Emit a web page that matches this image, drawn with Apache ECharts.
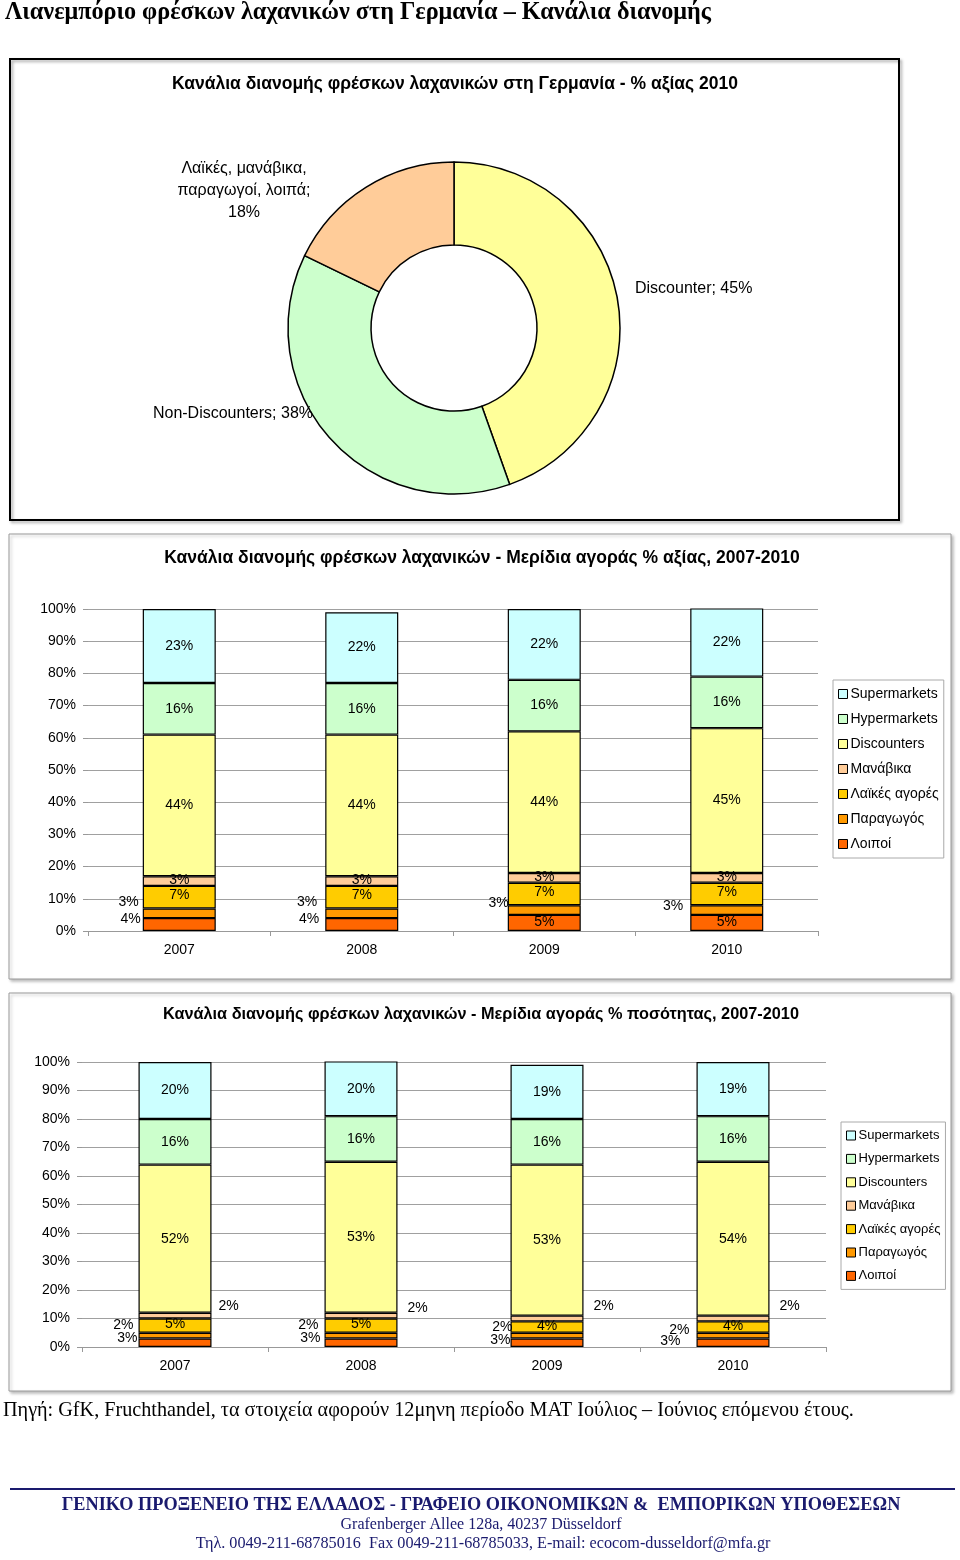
<!DOCTYPE html>
<html><head><meta charset="utf-8">
<script src="https://cdn.jsdelivr.net/npm/echarts@6/dist/echarts.min.js"></script>
<style>html,body{margin:0;padding:0;background:#fff}#c{width:960px;height:1560px}</style>
</head><body><div id="c"></div>
<script>
// ---- Data ----
const pieNames = ['Discounter', 'Non-Discounters', 'Λαϊκές, μανάβικα,\nπαραγωγοί, λοιπά'];
const pieValues = [45, 38, 18];

const years = ['2007', '2008', '2009', '2010'];
const seriesNames = ['Λοιποί', 'Παραγωγός', 'Λαϊκές αγορές', 'Μανάβικα', 'Discounters', 'Hypermarkets', 'Supermarkets'];
const legendOrder = ['Supermarkets', 'Hypermarkets', 'Discounters', 'Μανάβικα', 'Λαϊκές αγορές', 'Παραγωγός', 'Λοιποί'];

// value shares (% αξίας)
const valLoipoi = [4, 4, 5, 5];
const valParagogos = [3, 3, 3, 3];
const valLaikes = [7, 7, 7, 7];
const valManavika = [3, 3, 3, 3];
const valDiscounters = [44, 44, 44, 45];
const valHyper = [16, 16, 16, 16];
const valSuper = [23, 22, 22, 22];

// volume shares (% ποσότητας)
const volLoipoi = [3, 3, 3, 3];
const volParagogos = [2, 2, 2, 2];
const volLaikes = [5, 5, 4, 4];
const volManavika = [2, 2, 2, 2];
const volDiscounters = [52, 53, 53, 54];
const volHyper = [16, 16, 16, 16];
const volSuper = [20, 20, 19, 19];

const yTicks = [0, 10, 20, 30, 40, 50, 60, 70, 80, 90, 100];

// ---- Styles ----
const colors = {
  'Λοιποί': '#FF6600', 'Παραγωγός': '#FF9900', 'Λαϊκές αγορές': '#FFCC00', 'Μανάβικα': '#FFCC99',
  'Discounters': '#FFFF99', 'Hypermarkets': '#CCFFCC', 'Supermarkets': '#CCFFFF'
};
const SANS = '"Liberation Sans", Arial, sans-serif';
const SERIF = '"Liberation Serif", "Times New Roman", serif';

// label overrides per chart / series / year index
const valLabelCfg = {
  'Λοιποί': [
    {position: 'left', distance: 2, offset: [0, -5]},
    {position: 'left', distance: 6, offset: [0, -5]},
    {position: 'inside', offset: [0, -1]},
    {position: 'inside', offset: [0, -1]}
  ],
  'Παραγωγός': [
    {position: 'left', distance: 4, offset: [0, -11]},
    {position: 'left', distance: 8, offset: [0, -11]},
    {position: 'left', distance: -1, offset: [0, -7]},
    {position: 'left', distance: 7, offset: [0, -4]}
  ],
  'Λαϊκές αγορές': [{offset: [0, -2]}, {offset: [0, -2]}, {offset: [0, -2]}, {offset: [0, -2]}],
  'Μανάβικα': [{offset: [0, -1]}, {offset: [0, -1]}, {offset: [0, -1]}, {offset: [0, -1]}]
};
const volLabelCfg = {
  'Λοιποί': [
    {position: 'left', distance: 1, offset: [0, -5]},
    {position: 'left', distance: 4, offset: [0, -5]},
    {position: 'left', distance: 0, offset: [0, -3]},
    {position: 'left', distance: 16, offset: [0, -2]}
  ],
  'Παραγωγός': [
    {position: 'left', distance: 5, offset: [0, -10]},
    {position: 'left', distance: 6, offset: [0, -10]},
    {position: 'left', distance: -2, offset: [0, -8]},
    {position: 'left', distance: 7, offset: [0, -5]}
  ],
  'Μανάβικα': [
    {position: 'right', distance: 7, offset: [0, -10]},
    {position: 'right', distance: 10, offset: [0, -8]},
    {position: 'right', distance: 10, offset: [0, -12]},
    {position: 'right', distance: 10, offset: [0, -12]}
  ],
  'Λαϊκές αγορές': [{offset: [0, -1]}, {offset: [0, -1]}, {offset: [0, -1]}, {offset: [0, -1]}]
};

const valData = [valLoipoi, valParagogos, valLaikes, valManavika, valDiscounters, valHyper, valSuper];
const volData = [volLoipoi, volParagogos, volLaikes, volManavika, volDiscounters, volHyper, volSuper];

function makeSeries(dataArr, gridIdx, stackName, cfg) {
  return seriesNames.map((name, si) => ({
    name: name,
    type: 'bar',
    stack: stackName,
    xAxisIndex: gridIdx,
    yAxisIndex: gridIdx,
    barWidth: 73,
    itemStyle: {color: colors[name], borderColor: '#000', borderWidth: 1.2},
    label: {show: true, position: 'inside', formatter: '{c}%', color: '#000', fontFamily: SANS, fontSize: 14},
    emphasis: {disabled: true},
    data: dataArr[si].map((v, i) => {
      const c = cfg[name] && cfg[name][i];
      return c ? {value: v, label: Object.assign({}, c)} : v;
    })
  }));
}

function makeLegend(left, top, fontSize, lineH, gap) {
  return {
    orient: 'vertical', left: left, top: top,
    data: legendOrder,
    itemWidth: 9, itemHeight: 9, itemGap: gap,
    icon: 'rect',
    padding: [6, 5, 6, 5],
    borderColor: '#aaaaaa', borderWidth: 1,
    selectedMode: false,
    textStyle: {fontFamily: SANS, fontSize: fontSize, color: '#000', lineHeight: lineH, padding: [0, 0, 0, -2]},
    itemStyle: {borderColor: '#000', borderWidth: 1}
  };
}

function yAx(gi) {
  return {
    gridIndex: gi, type: 'value', min: 0, max: 100, interval: 10,
    axisLine: {show: false},
    axisTick: {show: true, length: 5, lineStyle: {color: '#999'}},
    splitLine: {show: true, lineStyle: {color: '#a0a0a0', width: 1}},
    axisLabel: {formatter: '{value}%', color: '#000', fontFamily: SANS, fontSize: 14, margin: 12}
  };
}
function xAx(gi) {
  return {
    gridIndex: gi, type: 'category', data: years,
    axisLine: {show: true, lineStyle: {color: '#999', width: 1}},
    axisTick: {show: true, length: 5, lineStyle: {color: '#999'}},
    axisLabel: {color: '#000', fontFamily: SANS, fontSize: 14, margin: 12}
  };
}

const chart = echarts.init(document.getElementById('c'), null, {renderer: 'canvas'});

const option = {
  backgroundColor: '#fff',
  animation: false,
  color: seriesNames.map(n => colors[n]),
  graphic: [
    // page title
    {type: 'text', left: 5, top: 1, style: {text: 'Λιανεμπόριο φρέσκων λαχανικών στη Γερμανία – Κανάλια διανομής', font: 'bold 24.2px ' + SERIF, fill: '#000'}},
    // box 1
    {type: 'rect', shape: {x: 10, y: 59, width: 889, height: 461}, style: {fill: 'none', stroke: '#000', lineWidth: 2, shadowBlur: 3, shadowOffsetX: 2, shadowOffsetY: 2, shadowColor: 'rgba(0,0,0,0.35)'}, z: -1},
    {type: 'text', x: 455, y: 84, style: {text: 'Κανάλια διανομής φρέσκων λαχανικών στη Γερμανία - % αξίας 2010', font: 'bold 17.5px ' + SANS, fill: '#000', align: 'center', verticalAlign: 'middle'}},
    // box 2
    {type: 'rect', shape: {x: 9, y: 534, width: 942, height: 445}, style: {fill: '#fff', stroke: '#9a9a9a', lineWidth: 1, shadowBlur: 3, shadowOffsetX: 2, shadowOffsetY: 2, shadowColor: 'rgba(0,0,0,0.25)'}, z: -1},
    {type: 'text', x: 482, y: 558, style: {text: 'Κανάλια διανομής φρέσκων λαχανικών - Μερίδια αγοράς % αξίας, 2007-2010', font: 'bold 17.5px ' + SANS, fill: '#000', align: 'center', verticalAlign: 'middle'}},
    // box 3
    {type: 'rect', shape: {x: 9, y: 993, width: 942, height: 398}, style: {fill: '#fff', stroke: '#9a9a9a', lineWidth: 1, shadowBlur: 3, shadowOffsetX: 2, shadowOffsetY: 2, shadowColor: 'rgba(0,0,0,0.25)'}, z: -1},
    {type: 'text', x: 481, y: 1015, style: {text: 'Κανάλια διανομής φρέσκων λαχανικών - Μερίδια αγοράς % ποσότητας, 2007-2010', font: 'bold 16.3px ' + SANS, fill: '#000', align: 'center', verticalAlign: 'middle'}},
    // source
    {type: 'text', left: 3, top: 1401, style: {text: 'Πηγή: GfK, Fruchthandel, τα στοιχεία αφορούν 12μηνη περίοδο ΜΑΤ Ιούλιος – Ιούνιος επόμενου έτους.', font: '20.2px ' + SERIF, fill: '#000'}},
    // footer
    {type: 'line', shape: {x1: 10, y1: 1489, x2: 955, y2: 1489}, style: {stroke: '#1a1a6e', lineWidth: 2}},
    {type: 'text', x: 481, y: 1505, style: {text: 'ΓΕΝΙΚΟ ΠΡΟΞΕΝΕΙΟ ΤΗΣ ΕΛΛΑΔΟΣ - ΓΡΑΦΕΙΟ ΟΙΚΟΝΟΜΙΚΩΝ &  ΕΜΠΟΡΙΚΩΝ ΥΠΟΘΕΣΕΩΝ', font: 'bold 18.3px ' + SERIF, fill: '#1a1a6e', align: 'center', verticalAlign: 'middle'}},
    {type: 'text', x: 481, y: 1525, style: {text: 'Grafenberger Allee 128a, 40237 Düsseldorf', font: '16px ' + SERIF, fill: '#1a1a6e', align: 'center', verticalAlign: 'middle'}},
    {type: 'text', x: 483, y: 1544, style: {text: 'Τηλ. 0049-211-68785016  Fax 0049-211-68785033, E-mail: ecocom-dusseldorf@mfa.gr', font: '16.2px ' + SERIF, fill: '#1a1a6e', align: 'center', verticalAlign: 'middle'}}
  ],
  legend: [makeLegend(833, 680, 14, 16, 9), makeLegend(841, 1122, 13, 15, 8.4)],
  grid: [
    {left: 88, top: 609, width: 730, height: 322},
    {left: 82, top: 1062, width: 744, height: 285}
  ],
  xAxis: [xAx(0), xAx(1)],
  yAxis: [yAx(0), yAx(1)],
  series: [
    {
      type: 'pie',
      center: [454, 328],
      radius: [83, 166],
      startAngle: 90,
      clockwise: true,
      silent: true,
      emphasis: {disabled: true},
      itemStyle: {borderColor: '#000', borderWidth: 1.5},
      label: {
        show: true, color: '#000', fontFamily: SANS, fontSize: 16, lineHeight: 22,
        formatter: p => p.dataIndex === 2 ? p.name + ';\n' + p.value + '%' : p.name + '; ' + p.value + '%'
      },
      labelLine: {show: false},
      labelLayout: p => {
        if (p.dataIndex === 0) return {x: 635, y: 289, align: 'left', verticalAlign: 'middle'};
        if (p.dataIndex === 1) return {x: 313, y: 414, align: 'right', verticalAlign: 'middle'};
        return {x: 244, y: 191, align: 'center', verticalAlign: 'middle'};
      },
      data: pieNames.map((n, i) => ({
        name: n, value: pieValues[i],
        itemStyle: {color: ['#FFFF99', '#CCFFCC', '#FFCC99'][i]}
      }))
    }
  ].concat(makeSeries(valData, 0, 'val', valLabelCfg), makeSeries(volData, 1, 'vol', volLabelCfg))
};
chart.setOption(option);
</script>
</body></html>
